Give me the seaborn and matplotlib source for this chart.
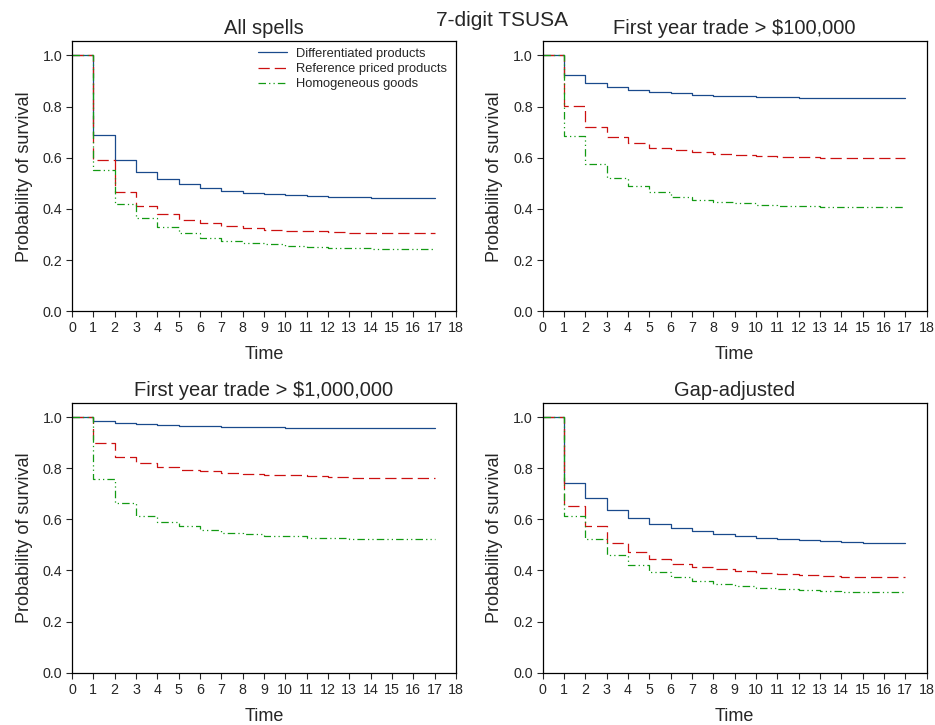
# Survival curves by product type, 7-digit TSUSA
import numpy as np
import pandas as pd
import matplotlib
matplotlib.use("Agg")
import matplotlib.pyplot as plt
import seaborn as sns

# ============================
# DATA
# ============================

time = list(range(0, 18))

panel_titles = ["All spells", "First year trade > $100,000",
                "First year trade > $1,000,000", "Gap-adjusted"]
series_names = ["Differentiated products", "Reference priced products", "Homogeneous goods"]

all_diff = [1.0, 0.688, 0.590, 0.546, 0.516, 0.496, 0.482, 0.471, 0.463, 0.458,
            0.453, 0.450, 0.446, 0.445, 0.443, 0.441, 0.441, 0.441]
all_ref = [1.0, 0.591, 0.467, 0.411, 0.379, 0.356, 0.343, 0.332, 0.325, 0.319,
           0.315, 0.312, 0.308, 0.307, 0.305, 0.304, 0.304, 0.304]
all_hom = [1.0, 0.551, 0.419, 0.363, 0.330, 0.307, 0.287, 0.275, 0.268, 0.261,
           0.256, 0.251, 0.248, 0.247, 0.245, 0.244, 0.244, 0.244]

k100_diff = [1.0, 0.924, 0.891, 0.875, 0.865, 0.858, 0.852, 0.846, 0.842, 0.840,
             0.837, 0.836, 0.835, 0.833, 0.833, 0.833, 0.833, 0.833]
k100_ref = [1.0, 0.803, 0.722, 0.682, 0.656, 0.639, 0.629, 0.621, 0.614, 0.610,
            0.606, 0.604, 0.601, 0.600, 0.598, 0.598, 0.598, 0.598]
k100_hom = [1.0, 0.686, 0.576, 0.521, 0.490, 0.467, 0.448, 0.434, 0.428, 0.423,
            0.417, 0.413, 0.411, 0.409, 0.408, 0.407, 0.407, 0.407]

m1_diff = [1.0, 0.986, 0.978, 0.973, 0.969, 0.966, 0.963, 0.962, 0.961, 0.959,
           0.958, 0.957, 0.957, 0.957, 0.957, 0.957, 0.957, 0.957]
m1_ref = [1.0, 0.899, 0.844, 0.820, 0.803, 0.793, 0.787, 0.783, 0.776, 0.775,
          0.773, 0.769, 0.766, 0.763, 0.761, 0.761, 0.761, 0.761]
m1_hom = [1.0, 0.757, 0.664, 0.614, 0.590, 0.573, 0.558, 0.548, 0.543, 0.536,
          0.535, 0.528, 0.527, 0.525, 0.524, 0.523, 0.522, 0.522]

gap_diff = [1.0, 0.742, 0.682, 0.635, 0.606, 0.583, 0.566, 0.553, 0.542, 0.534,
            0.528, 0.523, 0.519, 0.515, 0.511, 0.508, 0.508, 0.508]
gap_ref = [1.0, 0.651, 0.572, 0.508, 0.471, 0.446, 0.427, 0.413, 0.405, 0.397,
           0.392, 0.388, 0.383, 0.378, 0.375, 0.374, 0.373, 0.373]
gap_hom = [1.0, 0.612, 0.523, 0.459, 0.422, 0.395, 0.373, 0.358, 0.348, 0.339,
           0.332, 0.328, 0.324, 0.320, 0.317, 0.315, 0.314, 0.314]

panels = [
    (all_diff, all_ref, all_hom),
    (k100_diff, k100_ref, k100_hom),
    (m1_diff, m1_ref, m1_hom),
    (gap_diff, gap_ref, gap_hom),
]

colors = ["#1a4a8c", "#cc1111", "#139a13"]
styles = ["-", (0, (9, 4)), (0, (6, 2.5, 1, 2.5, 1, 2.5))]

# ============================
# PLOT
# ============================

sns.set_style("ticks")
plt.rcParams["font.family"] = ["Liberation Sans", "DejaVu Sans"]

fig, axes = plt.subplots(2, 2, figsize=(9.35, 7.25), dpi=100)
fig.subplots_adjust(left=0.077, right=0.991, top=0.943, bottom=0.072,
                    wspace=0.226, hspace=0.34)

yt = np.arange(0, 1.01, 0.2)

for i, ax in enumerate(axes.flat):
    for vals, name, col, ls in zip(panels[i], series_names, colors, styles):
        df = pd.DataFrame({"Time": time, "S": vals})
        sns.lineplot(data=df, x="Time", y="S", ax=ax, color=col, linestyle=ls,
                     drawstyle="steps-post", linewidth=0.9, label=name)
    ax.set_xlim(0, 18)
    ax.set_ylim(0, 1.055)
    ax.set_xticks(range(0, 19))
    ax.set_yticks(yt)
    ax.set_yticklabels([f"{v:.1f}" for v in yt])
    ax.tick_params(labelsize=10.3, length=4, width=0.8, direction="out", pad=3)
    ax.set_xlabel("Time", fontsize=13, labelpad=8)
    ax.set_ylabel("Probability of survival", fontsize=13, labelpad=7)
    ax.set_title(panel_titles[i], fontsize=14.5, pad=5)
    for sp in ax.spines.values():
        sp.set_visible(True)
        sp.set_linewidth(0.9)
        sp.set_color("black")
    if i == 0:
        ax.legend(loc="upper right", bbox_to_anchor=(0.998, 1.005), frameon=False,
                  fontsize=9.3, handlelength=2.3, handletextpad=0.7,
                  labelspacing=0.25, borderaxespad=0.2)
    else:
        ax.get_legend().remove()

fig.text(0.537, 1 - 20 / 725, "7-digit TSUSA", fontsize=15, ha="center", va="center")

plt.savefig("out.png", dpi=100)
